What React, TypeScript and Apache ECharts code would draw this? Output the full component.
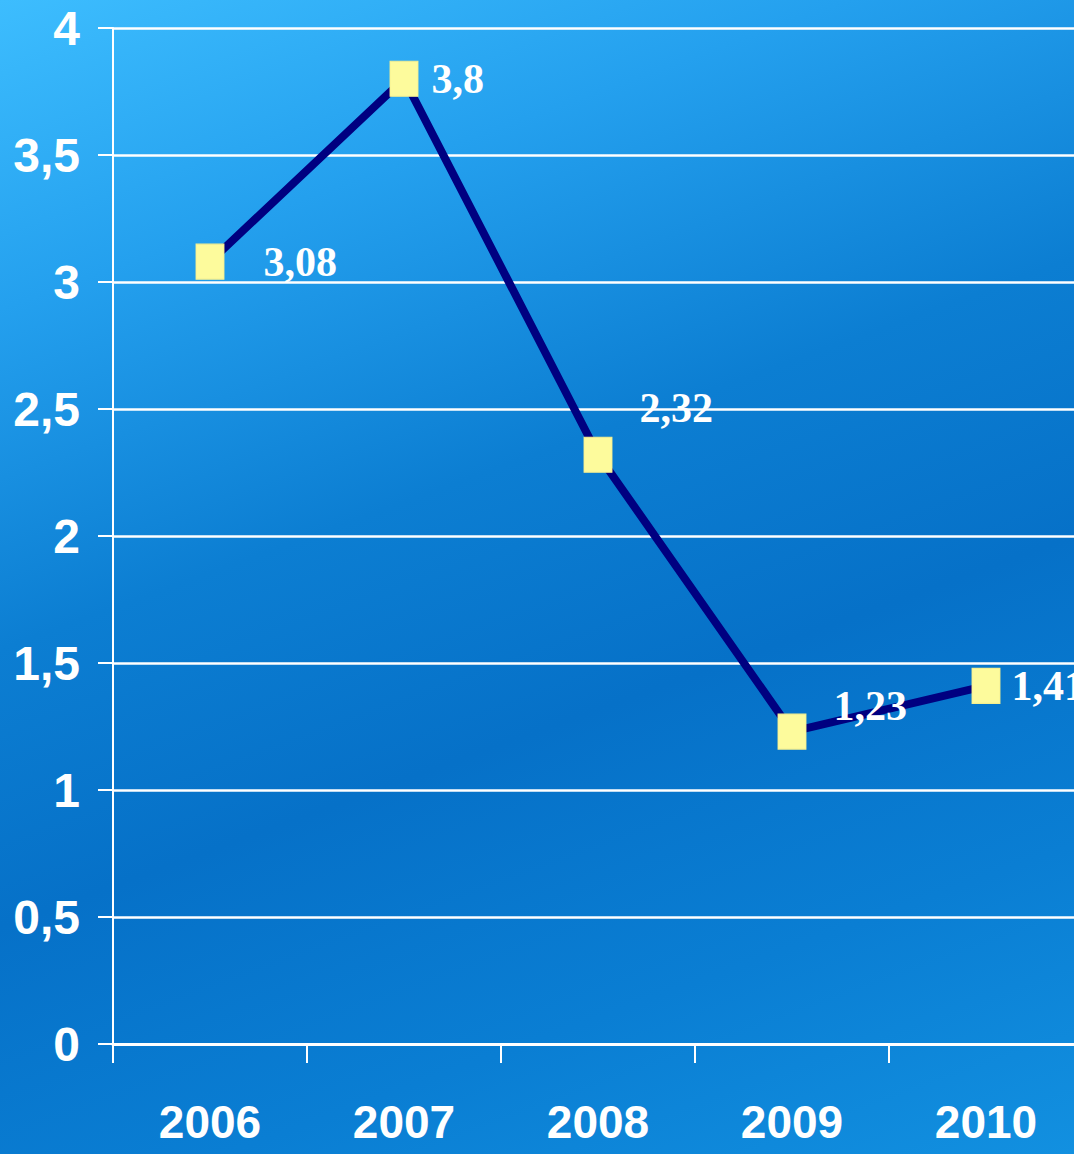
import React, { useEffect, useRef } from "react";
import * as echarts from "echarts";

const categories = ["2006", "2007", "2008", "2009", "2010"];
const values = [3.08, 3.8, 2.32, 1.23, 1.41];
const labelOffsets: [number, number][] = [
  [34, 0],
  [8, 0],
  [22, -47],
  [22, -26],
  [6, 0],
];

const fmt = (v: number) => String(v).replace(".", ",");

export default function App() {
  const ref = useRef<HTMLDivElement>(null);
  useEffect(() => {
    if (!ref.current) return;
    const chart = echarts.init(ref.current, undefined, { renderer: "svg" });
    chart.setOption({
      animation: false,
      backgroundColor: "transparent",
      grid: { left: 113, top: 28, width: 970, bottom: 110, containLabel: false },
      xAxis: {
        type: "category",
        data: categories,
        boundaryGap: true,
        axisLine: { show: true, lineStyle: { color: "#ffffff", width: 3 } },
        axisTick: { show: true, length: 19, lineStyle: { color: "#ffffff", width: 2 } },
        axisLabel: {
          color: "#ffffff",
          fontFamily: "'Liberation Sans', Arial, sans-serif",
          fontWeight: "bold",
          fontSize: 46,
          margin: 55,
        },
        splitLine: { show: false },
      },
      yAxis: {
        type: "value",
        min: 0,
        max: 4,
        interval: 0.5,
        axisLine: { show: true, lineStyle: { color: "#ffffff", width: 2 } },
        axisTick: { show: true, length: 15, lineStyle: { color: "#ffffff", width: 2 } },
        axisLabel: {
          color: "#ffffff",
          fontFamily: "'Liberation Sans', Arial, sans-serif",
          fontWeight: "bold",
          fontSize: 48,
          margin: 33,
          formatter: (v: number) => fmt(v),
        },
        splitLine: { show: true, lineStyle: { color: "#ffffff", width: 2.5 } },
      },
      series: [
        {
          type: "line",
          data: values.map((v, i) => ({
            value: v,
            label: { offset: labelOffsets[i] },
          })),
          lineStyle: { color: "#000080", width: 8 },
          itemStyle: { color: "#fdfb9c", borderColor: "#f5f090", borderWidth: 1 },
          symbol: "rect",
          symbolSize: [28, 35],
          showAllSymbol: true,
          z: 5,
          label: {
            show: true,
            position: "right",
            distance: 5,
            color: "#ffffff",
            fontFamily: "'Liberation Serif', 'Times New Roman', serif",
            fontWeight: "bold",
            fontSize: 42,
            formatter: (p: any) => fmt(p.value),
          },
        },
      ],
    });
    return () => chart.dispose();
  }, []);
  return (
    <div
      style={{
        position: "absolute",
        left: 0,
        top: 0,
        width: 1074,
        height: 1154,
        overflow: "hidden",
        background:
          "linear-gradient(160deg, #3dbdfe 0%, #24a0ee 20%, #0c7ed2 42%, #0671c8 60%, #0a7ed3 80%, #1290e0 100%)",
      }}
    >
      <div ref={ref} style={{ width: 1100, height: 1154 }} />
    </div>
  );
}
